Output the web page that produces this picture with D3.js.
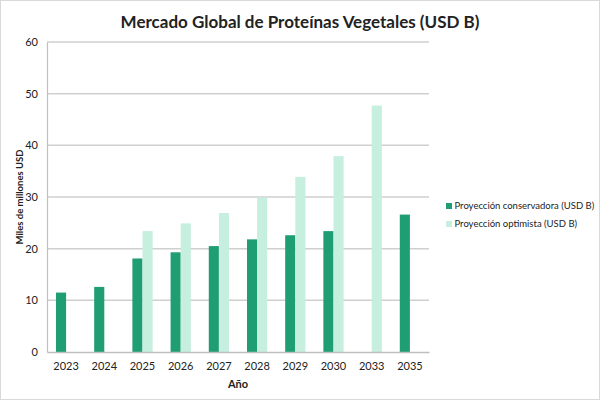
<!DOCTYPE html>
<html>
<head>
<meta charset="utf-8">
<script src="https://cdn.jsdelivr.net/npm/d3@7"></script>
<style>
  body { margin: 0; background: #fff; }
  text { font-family: Lato, "Open Sans", sans-serif; fill: #222; }
</style>
</head>
<body>
<div id="chart"></div>
<script>
// Chart data
const years = ["2023", "2024", "2025", "2026", "2027", "2028", "2029", "2030", "2033", "2035"];
const conservadora = [11.5, 12.6, 18.1, 19.3, 20.5, 21.8, 22.6, 23.4, null, 26.6];
const optimista = [null, null, 23.4, 24.9, 26.9, 29.9, 33.9, 37.9, 47.7, null];
const yTicks = [0, 10, 20, 30, 40, 50, 60];
const seriesNames = ["Proyección conservadora (USD B)", "Proyección optimista (USD B)"];
const colors = ["#1f9e74", "#c6efe0"];

const width = 600, height = 400;
const margin = {top: 42, right: 171, bottom: 48, left: 47};

const svg = d3.select("#chart")
    .append("svg")
    .attr("width", width)
    .attr("height", height);

// outer frame
svg.append("rect")
    .attr("x", 0.5).attr("y", 0.5)
    .attr("width", width - 1).attr("height", height - 1)
    .attr("fill", "#fff")
    .attr("stroke", "#d9d9d9");

const x = d3.scaleBand()
    .domain(years)
    .range([margin.left, width - margin.right])
    .paddingInner(0.47)
    .paddingOuter(0.235);

const xSub = d3.scaleBand()
    .domain([0, 1])
    .range([0, x.bandwidth()]);

const y = d3.scaleLinear()
    .domain([0, 60])
    .range([height - margin.bottom, margin.top]);

// gridlines
svg.append("g")
    .selectAll("line")
    .data(yTicks.filter(d => d > 0))
    .enter()
    .append("line")
    .attr("x1", margin.left)
    .attr("x2", width - margin.right)
    .attr("y1", d => y(d))
    .attr("y2", d => y(d))
    .attr("stroke", "#cfcfcf")
    .attr("stroke-width", 1.5);

// y axis
const yAxis = svg.append("g")
    .attr("transform", `translate(${margin.left},0)`)
    .call(d3.axisLeft(y).tickValues(yTicks).tickSize(0).tickPadding(9));
yAxis.select(".domain").attr("stroke", "#bfbfbf").attr("stroke-width", 1.2);
yAxis.selectAll("text").attr("font-size", "11px").style("fill", "#222");

// bars
const rows = years.map((yr, i) => ({year: yr, vals: [conservadora[i], optimista[i]]}));

svg.append("g")
    .selectAll("g")
    .data(rows)
    .enter()
    .append("g")
    .attr("transform", d => `translate(${x(d.year)},0)`)
    .selectAll("rect")
    .data(d => d.vals.map((v, k) => ({k: k, v: v})).filter(e => e.v !== null))
    .enter()
    .append("rect")
    .attr("x", e => xSub(e.k))
    .attr("width", xSub.bandwidth())
    .attr("y", e => y(e.v))
    .attr("height", e => y(0) - y(e.v))
    .attr("fill", e => colors[e.k]);

// x axis
const xAxis = svg.append("g")
    .attr("transform", `translate(0,${height - margin.bottom})`)
    .call(d3.axisBottom(x).tickSize(0).tickPadding(10));
xAxis.select(".domain").attr("stroke", "#bfbfbf").attr("stroke-width", 1.5);
xAxis.selectAll("text").attr("font-size", "11px").style("fill", "#222");

// title
svg.append("text")
    .attr("x", 300)
    .attr("y", 28)
    .attr("text-anchor", "middle")
    .attr("font-size", "17px")
    .attr("font-weight", "bold")
    .text("Mercado Global de Proteínas Vegetales (USD B)");

// axis titles
svg.append("text")
    .attr("x", (margin.left + width - margin.right) / 2)
    .attr("y", 388)
    .attr("text-anchor", "middle")
    .attr("font-size", "11px")
    .attr("font-weight", "bold")
    .text("Año");

svg.append("text")
    .attr("transform", `translate(23,${y(30)}) rotate(-90)`)
    .attr("text-anchor", "middle")
    .attr("font-size", "9.5px")
    .attr("font-weight", "bold")
    .text("Miles de millones USD");

// legend
const legend = svg.append("g")
    .selectAll("g")
    .data(seriesNames)
    .enter()
    .append("g")
    .attr("transform", (d, i) => `translate(446,${206 + i * 18})`);

legend.append("rect")
    .attr("x", 0).attr("y", -3)
    .attr("width", 6).attr("height", 6)
    .attr("fill", (d, i) => colors[i]);

legend.append("text")
    .attr("x", 8.5)
    .attr("dy", "0.35em")
    .attr("font-size", "9.5px")
    .text(d => d);
</script>
</body>
</html>
